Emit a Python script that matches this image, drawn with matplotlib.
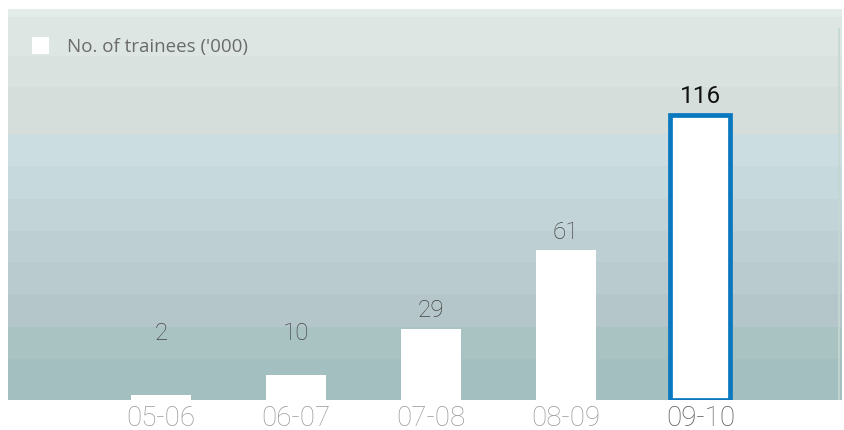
import numpy as np
import matplotlib as m
m.use('Agg')
import matplotlib.pyplot as plt
from matplotlib.patches import Rectangle

years = ['05-06', '06-07', '07-08', '08-09', '09-10']
trainees = [2, 10, 29, 61, 116]
legend_label = "No. of trainees ('000)"

# horizontal colour bands of the backdrop, bottom to top (pixel rows from top)
band_edges = [401, 360, 328, 295, 263, 232, 200, 167, 135, 88, 57, 18, 10]
band_colors = ['#a4bfbf', '#a9c3c3', '#b4c6c9', '#b9cbcf', '#bdcfd3', '#c2d4d8',
               '#c6d9dd', '#cbdde1', '#d5dedb', '#d9e2df', '#dde6e3', '#e4ece9']

num_font = ['Roboto', 'DejaVu Sans']


def main():
  fig = plt.figure(figsize=(8.44, 4.31), dpi=100)
  ax = fig.add_axes([8/844., 30/431., 834/844., 391/431.])

  for i, c in enumerate(band_colors):
    y0 = (401 - band_edges[i]) / 391.
    y1 = (401 - band_edges[i+1]) / 391.
    ax.add_patch(Rectangle((0, y0), 1, y1 - y0, transform=ax.transAxes,
                           facecolor=c, edgecolor='none', zorder=0))
  ax.axvline(5.025, color='#c4d8d2', lw=1.2, ymin=0, ymax=0.95, zorder=0.5)

  x = np.arange(len(years))
  bars = ax.bar(x, trainees, width=0.445, color='white', edgecolor='none', zorder=2)
  last = bars[-1]
  last.set_edgecolor('#0a78be')
  last.set_linewidth(3.4)

  for xi, v in zip(x, trainees):
    latest = (xi == len(years) - 1)
    ly = max(v + 5, 25)
    ax.text(xi, ly, str(v), ha='center', va='baseline', fontsize=17.5,
            color='#111111' if latest else '#444444', family=num_font,
            fontweight='normal' if latest else 'light')

  ax.set_xlim(-1.135, 5.05)
  ax.set_ylim(0, 159)
  ax.set_xticks(x)
  ax.set_xticklabels(years, fontsize=20, family=num_font, fontweight='light')
  for i, t in enumerate(ax.get_xticklabels()):
    t.set_color('#555555' if i == len(years) - 1 else '#999999')
  ax.tick_params(axis='x', length=0, pad=3)
  ax.tick_params(axis='y', left=False, labelleft=False)
  for s in ax.spines.values():
    s.set_visible(False)

  # legend swatch and caption
  ax.add_patch(Rectangle((24/834., (401-55)/391.), 17/834., 17/391., transform=ax.transAxes,
                         facecolor='white', edgecolor='none', zorder=3))
  ax.text(59/834., (401-47)/391., legend_label, transform=ax.transAxes, va='center',
          ha='left', fontsize=13.5, color='#6b6b6b', family='Open Sans')

  plt.savefig('out.png', dpi=100)


if __name__ == '__main__':
  main()
